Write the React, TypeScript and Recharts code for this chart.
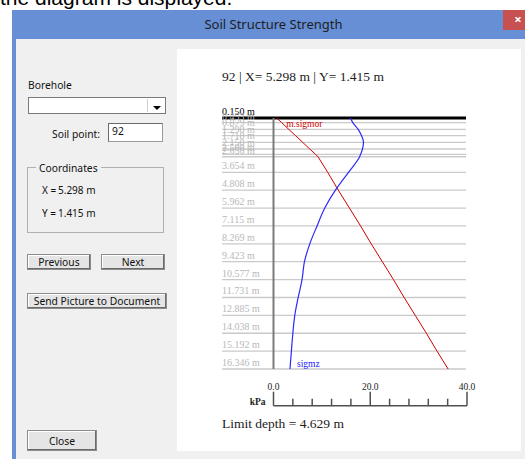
import React from 'react';
import { LineChart, Line, XAxis, YAxis, CartesianGrid } from 'recharts';

const depths = [0.15, 0.453, 0.879, 1.29, 1.718, 2.15, 2.5, 2.65, 3.654, 4.808, 5.962, 7.115, 8.269, 9.423, 10.577, 11.731, 12.885, 14.038, 15.192, 16.346];
// m.sigmor (red) in kPa
const sigmor = [0.66, 1.7, 3.15, 4.56, 6.02, 7.5, 8.7, 9.2, 11.2, 13.4, 15.7, 18.0, 20.2, 22.5, 24.8, 27.0, 29.3, 31.6, 33.8, 36.1];
// sigmz (blue) in kPa
const sigmz = [15.9, 16.4, 17.5, 18.2, 18.6, 18.4, 18.0, 17.8, 15.5, 12.8, 10.6, 9.0, 7.5, 6.4, 5.9, 5.1, 4.4, 4.0, 3.7, 3.4];
const kpaTicks = [0, 4, 8, 12, 16, 20, 24, 28, 32, 36, 40];
const kpaMajor = [0, 20, 40];

const title = '92 | X= 5.298 m | Y= 1.415 m';
const limitText = 'Limit depth = 4.629 m';

const data = depths.map((d, i) => ({ depth: d, sigmor: sigmor[i], sigmz: sigmz[i] }));

const SERIF = '"Liberation Serif", "Times New Roman", serif';
const UI = '"Noto Sans", "DejaVu Sans", sans-serif';

const YTick = (p: any) => {
  const v = p.payload.value;
  const top = v === depths[0];
  return (
    <text x={p.x - 51.5} y={p.y - 3} fontFamily={SERIF} fontSize={10} fill={top ? '#000' : '#b8b8b8'} textAnchor="start">
      {v.toFixed(3) + ' m'}
    </text>
  );
};

const XTick = (p: any) => {
  const v = p.payload.value;
  const x = p.x;
  const base = p.y + 36.7;
  const major = kpaMajor.includes(v);
  return (
    <g>
      <line x1={x} x2={x} y1={base} y2={base - (major ? 14 : 7)} stroke="#505050" strokeWidth={1.5} />
      {major && (
        <text x={x} y={base - 16} textAnchor="middle" fontFamily={SERIF} fontSize={9.5} fill="#222">
          {v.toFixed(1)}
        </text>
      )}
      {v === 0 && (
        <text x={x - 8} y={base - 1} textAnchor="end" fontFamily={SERIF} fontSize={9.5} fontWeight="bold" fill="#222">
          kPa
        </text>
      )}
    </g>
  );
};

const gridLine = (p: any) => {
  const isTop = p.index === 0 || Math.abs(p.y1 - p.y) < 0.5;
  return (
    <line
      key={'g' + p.index}
      x1={p.x1 - 51.5}
      x2={p.x2 - 1}
      y1={p.y1}
      y2={p.y2}
      stroke={isTop ? '#000' : '#cacaca'}
      strokeWidth={isTop ? 3 : 1.3}
    />
  );
};

const redDot = (p: any) =>
  p.index === 0 ? (
    <text key={'r' + p.index} x={p.cx + 9.5} y={p.cy + 9} fontFamily={SERIF} fontSize={9.5} fill="#d00000">
      m.sigmor
    </text>
  ) : (
    <g key={'r' + p.index} />
  );

const blueDot = (p: any) =>
  p.index === depths.length - 1 ? (
    <text key={'b' + p.index} x={p.cx + 7} y={p.cy - 2.5} fontFamily={SERIF} fontSize={9.5} fill="#1a1aff">
      sigmz
    </text>
  ) : (
    <g key={'b' + p.index} />
  );

const btn: React.CSSProperties = {
  position: 'absolute',
  background: '#e5e5e5',
  border: '1px solid #8c8c8c',
  boxShadow: 'inset -1px -1px 0 #6a6a6a, inset 1px 1px 0 #ffffff',
  boxSizing: 'border-box',
  fontFamily: UI,
  fontSize: 10.3,
  color: '#111',
  display: 'flex',
  alignItems: 'center',
  justifyContent: 'center',
};

const abs = (s: React.CSSProperties): React.CSSProperties => ({ position: 'absolute', ...s });

export default function App() {
  return (
    <div style={abs({ left: 0, top: 0, width: 525, height: 459, overflow: 'hidden', background: '#fff' })}>
      <div style={abs({ left: 0, top: -12.8, fontFamily: '"Liberation Sans", Arial, sans-serif', fontSize: 21, lineHeight: '21px', color: '#000', whiteSpace: 'nowrap' })}>
        the diagram is displayed.
      </div>
      {/* title bar */}
      <div style={abs({ left: 12, top: 10, width: 520, height: 29, background: '#668fd5' })} />
      <div style={abs({ left: 12, top: 16, width: 523, textAlign: 'center', fontFamily: UI, fontSize: 13, lineHeight: '17px', color: '#1e1e1e' })}>
        Soil Structure Strength
      </div>
      <div style={abs({ left: 503, top: 10, width: 30, height: 20, background: '#c75050' })} />
      <div style={abs({ left: 512, top: 10, width: 12, height: 20, color: '#fff', fontFamily: UI, fontSize: 13, fontWeight: 'bold', lineHeight: '19px', textAlign: 'center' })}>×</div>
      {/* body */}
      <div style={abs({ left: 12, top: 39, width: 4, height: 420, background: '#668fd5' })} />
      <div style={abs({ left: 16, top: 39, width: 509, height: 420, background: '#f0f0f0' })} />

      {/* left controls */}
      <div style={abs({ left: 28, top: 78, fontFamily: UI, fontSize: 10.3, lineHeight: '14px', color: '#111' })}>Borehole</div>
      <div style={abs({ left: 28, top: 97, width: 138, height: 17, background: '#fff', border: '1px solid #7a7a7a', boxSizing: 'border-box' })} />
      <div style={abs({ left: 147, top: 99, width: 17, height: 13, background: '#fff', borderLeft: '1px solid #d0d0d0', boxSizing: 'border-box' })} />
      <div style={abs({ left: 153, top: 106, width: 0, height: 0, borderLeft: '4px solid transparent', borderRight: '4px solid transparent', borderTop: '4px solid #000' })} />

      <div style={abs({ left: 30, top: 127, width: 70, textAlign: 'right', fontFamily: UI, fontSize: 10.3, lineHeight: '14px', color: '#111' })}>Soil point:</div>
      <div style={abs({ left: 108, top: 123, width: 55, height: 19, background: '#fff', border: '1px solid #9a9a9a', borderTopColor: '#6a6a6a', borderLeftColor: '#6a6a6a', boxSizing: 'border-box' })} />
      <div style={abs({ left: 112, top: 124, fontFamily: UI, fontSize: 10.3, lineHeight: '14px', color: '#111' })}>92</div>

      <div style={abs({ left: 27, top: 167, width: 137, height: 66, border: '1px solid #b0b0b0', boxSizing: 'border-box' })} />
      <div style={abs({ left: 36, top: 161, padding: '0 3px', background: '#f0f0f0', fontFamily: UI, fontSize: 10.3, lineHeight: '14px', color: '#111' })}>Coordinates</div>
      <div style={abs({ left: 42, top: 183, fontFamily: UI, fontSize: 10, lineHeight: '14px', color: '#111', whiteSpace: 'nowrap' })}>X =</div>
      <div style={abs({ left: 58, top: 183, fontFamily: UI, fontSize: 10, lineHeight: '14px', color: '#111', whiteSpace: 'nowrap' })}>5.298 m</div>
      <div style={abs({ left: 42, top: 206, fontFamily: UI, fontSize: 10, lineHeight: '14px', color: '#111', whiteSpace: 'nowrap' })}>Y =</div>
      <div style={abs({ left: 58, top: 206, fontFamily: UI, fontSize: 10, lineHeight: '14px', color: '#111', whiteSpace: 'nowrap' })}>1.415 m</div>

      <div style={{ ...btn, left: 27, top: 254, width: 64, height: 16 }}>Previous</div>
      <div style={{ ...btn, left: 101, top: 254, width: 64, height: 16 }}>Next</div>
      <div style={{ ...btn, left: 27, top: 293, width: 140, height: 16 }}>Send Picture to Document</div>
      <div style={{ ...btn, left: 27, top: 430, width: 70, height: 21 }}>Close</div>

      {/* white chart panel */}
      <div style={abs({ left: 177, top: 49, width: 344, height: 402, background: '#fff' })}>
        <div style={abs({ left: 45, top: 19, fontFamily: SERIF, fontSize: 13.5, lineHeight: '17px', color: '#222', whiteSpace: 'nowrap' })}>{title}</div>
        <LineChart
          width={343}
          height={402}
          data={data}
          layout="vertical"
          margin={{ top: 69, right: 53, bottom: 32, left: 45 }}
        >
          <CartesianGrid vertical={false} horizontal={gridLine} />
          <XAxis
            type="number"
            domain={[0, 40]}
            ticks={kpaTicks}
            interval={0}
            height={50}
            tickLine={false}
            tickSize={0}
            tickMargin={0}
            tick={XTick}
            axisLine={{ stroke: '#505050', strokeWidth: 1.5, transform: 'translate(0,36.7)' } as any}
          />
          <YAxis
            type="number"
            dataKey="depth"
            domain={[depths[0], depths[depths.length - 1]]}
            ticks={depths}
            interval={0}
            width={51.5}
            tickLine={false}
            tickSize={0}
            tickMargin={0}
            tick={YTick}
            axisLine={{ stroke: '#7a7a7a', strokeWidth: 2 }}
          />
          <Line dataKey="sigmor" type="linear" stroke="#d00000" strokeWidth={1} dot={redDot} activeDot={false} isAnimationActive={false} />
          <Line dataKey="sigmz" type="monotone" stroke="#2a2aff" strokeWidth={1.2} dot={blueDot} activeDot={false} isAnimationActive={false} />
        </LineChart>
        <div style={abs({ left: 45, top: 366, fontFamily: SERIF, fontSize: 13.5, lineHeight: '17px', color: '#222', whiteSpace: 'nowrap' })}>{limitText}</div>
      </div>
    </div>
  );
}
